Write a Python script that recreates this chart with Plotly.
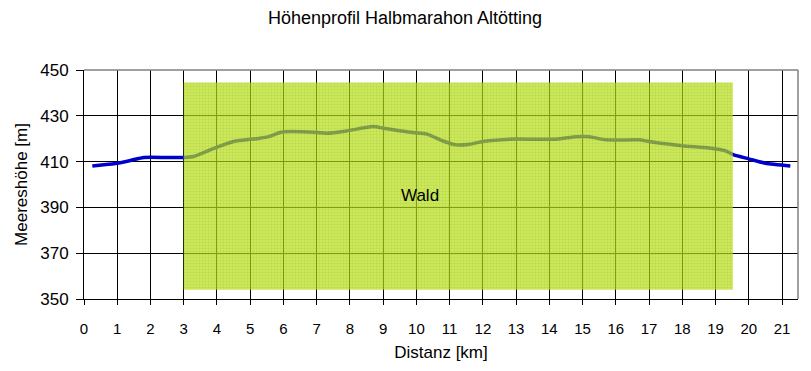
import plotly.graph_objects as go

# Elevation profile (distance in km, elevation in m)
distance_km = [0.25, 0.6, 1.0, 1.4, 1.8, 2.5, 3.0, 3.3, 4.0, 4.5, 5.25, 5.55, 5.9, 6.2,
               7.0, 7.3, 7.9, 8.7, 9.0, 9.9, 10.3, 10.8, 11.2, 11.6, 12.0, 12.8, 14.2,
               14.8, 15.2, 15.7, 16.7, 17.0, 18.0, 18.8, 19.3, 19.55, 20.0, 20.5, 21.25]
elevation_m = [408.1, 408.6, 409.3, 410.5, 411.8, 411.8, 411.8, 412.2, 416.3, 418.8, 420.1,
               420.9, 422.7, 423.1, 422.7, 422.4, 423.4, 425.3, 424.6, 422.7, 422.1, 419.0,
               417.3, 417.6, 418.8, 419.8, 419.8, 420.9, 420.9, 419.5, 419.5, 418.8, 416.9,
               415.9, 414.7, 412.9, 411.2, 409.3, 408.1]

# Forest area (Wald)
wald_x = [3.0, 19.52, 19.52, 3.0, 3.0]
wald_y = [354, 354, 444.5, 444.5, 354]
wald_label = "Wald"
wald_label_pos = (10.1, 395)

x_ticks = list(range(0, 22))
y_ticks = [350, 370, 390, 410, 430, 450]

FONT = "Liberation Sans, Arial, sans-serif"

# page body has an 8px default margin; compensate so the plot lands where intended
OFF = 8
W, H = 811 - OFF, 371 - OFF

fig = go.Figure()
fig.add_trace(go.Scatter(
    x=distance_km, y=elevation_m, mode="lines",
    line=dict(color="#0000CC", width=3.5, shape="spline", smoothing=0.6),
    hoverinfo="skip", showlegend=False))
fig.add_trace(go.Scatter(
    x=wald_x, y=wald_y, mode="lines", fill="toself",
    line=dict(width=0, color="rgba(0,0,0,0)"),
    fillcolor="#b8e01a",
    fillpattern=dict(shape="+", size=3, solidity=0.35,
                     fgcolor="#8ab400", bgcolor="#b8e01a"),
    opacity=0.72, hoverinfo="skip", showlegend=False))

fig.add_annotation(x=wald_label_pos[0], y=wald_label_pos[1], text=wald_label,
                   showarrow=False, font=dict(family=FONT, size=17, color="black"))

# gray top/right border
fig.add_shape(type="line", xref="paper", yref="paper", x0=0, x1=1, y0=1, y1=1,
              line=dict(color="#808080", width=1.5), layer="above")
fig.add_shape(type="line", xref="paper", yref="paper", x0=1, x1=1, y0=0, y1=1,
              line=dict(color="#808080", width=1.5), layer="above")

fig.update_layout(
    width=W, height=H,
    margin=dict(l=84 - OFF, r=13, t=70 - OFF, b=72, autoexpand=False),
    paper_bgcolor="white", plot_bgcolor="white",
    font=dict(family=FONT, color="black"),
    title=dict(text="Höhenprofil Halbmarahon Altötting", x=(405 - OFF) / W, xanchor="center",
               xref="container", y=1 - (18 - OFF) / H, yref="container", yanchor="middle",
               font=dict(family=FONT, size=18, color="black")),
    xaxis=dict(range=[0, 21.48], tickvals=x_ticks, ticktext=[str(t) for t in x_ticks],
               showgrid=True, gridcolor="black", gridwidth=1,
               showline=True, linecolor="black", linewidth=1,
               ticks="outside", ticklen=5, tickcolor="black",
               tickfont=dict(size=15), zeroline=False, automargin=False,
               ticklabelstandoff=11,
               title=dict(text="Distanz [km]", font=dict(size=17), standoff=10)),
    yaxis=dict(range=[350, 450], tickvals=y_ticks,
               showgrid=True, gridcolor="black", gridwidth=1,
               showline=True, linecolor="black", linewidth=1,
               ticks="outside", ticklen=7, tickcolor="black",
               tickfont=dict(size=17), zeroline=False, automargin=False,
               ticklabelstandoff=4,
               title=dict(text="Meereshöhe [m]", font=dict(size=17), standoff=8)),
)

fig.write_html("out.html")
